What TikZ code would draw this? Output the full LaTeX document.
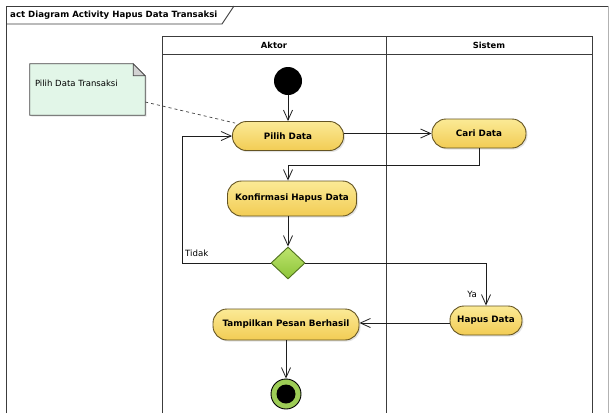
\documentclass[tikz,border=0pt]{standalone}
\usepackage{fontspec}
\setmainfont{DejaVu Sans}
\usetikzlibrary{arrows.meta,shapes.geometric,shadows,backgrounds}

\definecolor{actfillA}{RGB}{251,234,150}
\definecolor{actfillB}{RGB}{242,204,84}
\definecolor{actline}{RGB}{100,84,34}
\definecolor{decfillA}{RGB}{190,228,110}
\definecolor{decfillB}{RGB}{140,196,56}
\definecolor{decline}{RGB}{78,112,28}
\definecolor{notefill}{RGB}{226,246,232}
\definecolor{noteline}{RGB}{70,70,70}
\definecolor{laneline}{RGB}{60,60,60}
\definecolor{flowline}{RGB}{30,30,30}

\tikzset{
  action/.style={rectangle, rounded corners=14pt, draw=actline, line width=0.9pt,
    top color=actfillA, bottom color=actfillB, minimum height=29pt,
    font=\bfseries\fontsize{8.8}{10}\selectfont, inner sep=0pt,
    drop shadow={opacity=0.22, shadow xshift=1.5pt, shadow yshift=-1.5pt}},
  decision/.style={diamond, draw=decline, line width=0.9pt,
    top color=decfillA, bottom color=decfillB, inner sep=0pt,
    minimum width=34pt, minimum height=32pt},
  startnode/.style={circle, fill=black, inner sep=0pt, minimum size=28pt},
  endring/.style={circle, draw=black, line width=0.9pt, fill=decfillB!85!white,
    inner sep=0pt, minimum size=30pt},
  endcore/.style={circle, fill=black, inner sep=0pt, minimum size=19pt},
  flow/.style={draw=flowline, line width=0.8pt,
    -{Straight Barb[length=10pt,width=9pt,line width=0.8pt]}},
  lane/.style={draw=laneline, line width=0.9pt},
  head/.style={font=\bfseries\fontsize{8.4}{10}\selectfont},
  guard/.style={font=\fontsize{8.6}{10}\selectfont, inner sep=0pt},
  notebox/.style={rectangle, inner xsep=5pt, inner ysep=0pt, text width=105pt,
    align=left, minimum width=115pt, minimum height=51pt, text depth=13pt,
    font=\fontsize{8.5}{10}\selectfont},
}

\begin{document}
\begin{tikzpicture}[x=1pt,y=-1pt]
\useasboundingbox (0,0) rectangle (611,413);

% diagram frame with its name tab
\draw[laneline, line width=0.9pt] (6,413) -- (6,6) -- (608,6);
\draw[gray!60, line width=0.7pt] (608,6) -- (608,413);
\draw[laneline, line width=0.9pt] (6,24) -- (222,24) -- (234,6);
\node[anchor=west, font=\bfseries\fontsize{8.6}{10}\selectfont, inner sep=0pt]
  (fname) at (10,15) {act Diagram Activity Hapus Data Transaksi};

% swimlanes
\draw[lane] (162,413) -- (162,36) -- (592,36) -- (592,413);
\draw[lane] (162,54) -- (592,54);
\draw[lane] (386,36) -- (386,413);
\node[head] (aktor) at (274,45) {Aktor};
\node[head] (sistem) at (489,45) {Sistem};

% note
\node[notebox] (note) at (87.5,89.5) {Pilih Data Transaksi};
\begin{scope}[on background layer]
  \fill[white] (0,0) rectangle (611,413);
  \draw[noteline, fill=notefill, line width=0.7pt,
        drop shadow={opacity=0.2, shadow xshift=1.5pt, shadow yshift=-1.5pt}]
    (note.north west) -- ([xshift=-12pt]note.north east)
    -- ([yshift=-12pt]note.north east) -- (note.south east)
    -- (note.south west) -- cycle;
  \draw[noteline, fill=gray!35, line width=0.7pt]
    ([xshift=-12pt]note.north east) -- ([xshift=-12pt,yshift=-12pt]note.north east)
    -- ([yshift=-12pt]note.north east) -- cycle;
\end{scope}

% activity nodes
\node[startnode] (start) at (288,81) {};
\node[action, minimum width=111pt] (pilih) at (288,136) {Pilih Data};
\node[action, minimum width=94pt] (cari) at (479,133.5) {Cari Data};
\node[action, minimum width=129pt, minimum height=35pt] (konf) at (292,198.5) {Konfirmasi Hapus Data};
\node[decision] (dec) at (288,263) {};
\node[action, minimum width=72pt] (hapus) at (486,320.5) {Hapus Data};
\node[action, minimum width=146pt, minimum height=31pt] (tampil) at (286,324.5) {Tampilkan Pesan Berhasil};
\node[endring] (endn) at (286,394) {};
\node[endcore] (endc) at (286,394) {};

\coordinate (k1) at (288,165);
\coordinate (loopL) at (182,263);

% control flows
\draw[flow] (start) -- (pilih);
\draw[flow] (pilih.east |- cari.west) -- (cari.west);
\draw[flow] (cari.south) |- (k1) -- (konf.north -| k1);
\draw[flow] (konf.south -| dec.north) -- (dec.north);
\draw[flow] (dec.west) -- (loopL) |- (pilih.west);
\draw[flow] (dec.east) -| (hapus.north);
\draw[flow] (hapus.west |- 0,323) -- (tampil.east |- 0,323);
\draw[flow] (tampil.south -| endn) -- (endn.north);

% guards
\node[guard, anchor=west] (tidak) at (185,253) {Tidak};
\node[guard, anchor=east] (ya) at (477,294) {Ya};

% note link
\draw[noteline, dashed, line width=0.7pt] ([yshift=-12.5pt]note.east) -- ([xshift=3pt,yshift=-2pt]pilih.north west);
\end{tikzpicture}
\end{document}
